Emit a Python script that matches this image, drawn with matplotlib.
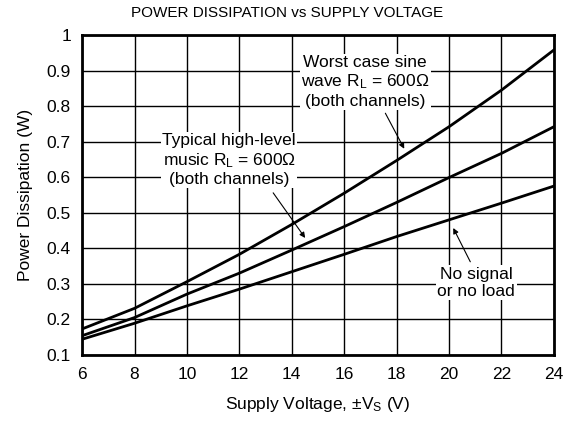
import numpy as np
import matplotlib
matplotlib.use("Agg")
import matplotlib.pyplot as plt

plt.rcParams['font.family'] = ['Liberation Sans', 'DejaVu Sans']
plt.rcParams['mathtext.default'] = 'regular'

# supply voltage (V)
volts = [6, 8, 10, 12, 14, 16, 18, 20, 22, 24]
# power dissipation (W)
worst_case = [0.173, 0.231, 0.306, 0.383, 0.467, 0.555, 0.647, 0.742, 0.845, 0.958]
typical_music = [0.154, 0.205, 0.271, 0.330, 0.395, 0.461, 0.529, 0.599, 0.667, 0.742]
no_signal = [0.144, 0.189, 0.238, 0.285, 0.334, 0.383, 0.433, 0.480, 0.527, 0.575]

x_ticks = [6, 8, 10, 12, 14, 16, 18, 20, 22, 24]
y_ticks = [0.1, 0.2, 0.3, 0.4, 0.5, 0.6, 0.7, 0.8, 0.9, 1]
y_tick_labels = ['0.1', '0.2', '0.3', '0.4', '0.5', '0.6', '0.7', '0.8', '0.9', '1']

fig = plt.figure(figsize=(5.74, 4.22), dpi=100)
ax = fig.add_axes([0.143, 0.159, 0.822, 0.758])

for ys in (worst_case, typical_music, no_signal):
    ax.plot(volts, ys, color='black', lw=2, zorder=3)

ax.set_xlim(6, 24)
ax.set_ylim(0.1, 1)
ax.set_xticks(x_ticks)
ax.set_yticks(y_ticks)
ax.set_yticklabels(y_tick_labels)
ax.tick_params(length=0, labelsize=12.5)
ax.tick_params(axis='x', pad=9)
ax.tick_params(axis='y', pad=8)
ax.grid(True, color='black', lw=1)
for s in ax.spines.values():
    s.set_linewidth(2)

ax.set_xlabel('Supply Voltage, ±V$_S$ (V)', fontsize=12.5, labelpad=9)
ax.set_ylabel('Power Dissipation (W)', fontsize=12.5, labelpad=10)
fig.text(0.5, 0.970, 'POWER DISSIPATION vs SUPPLY VOLTAGE', fontsize=11, ha='center', va='center')

box = dict(facecolor='white', edgecolor='none', pad=1)
arrow = dict(arrowstyle='-|>', color='black', lw=0.8, mutation_scale=8, shrinkA=0, shrinkB=0)

ax.text(16.8, 0.868, 'Worst case sine\nwave R$_L$ = 600Ω\n(both channels)', ha='center', va='center',
        fontsize=12.5, linespacing=1.2, bbox=box, zorder=4)
ax.annotate('', xy=(18.29, 0.68), xytext=(17.57, 0.78), arrowprops=arrow, zorder=5)

ax.text(11.61, 0.648, 'Typical high-level\nmusic R$_L$ = 600Ω\n(both channels)', ha='center', va='center',
        fontsize=12.5, linespacing=1.2, bbox=box, zorder=4)
ax.annotate('', xy=(14.51, 0.429), xytext=(13.29, 0.556), arrowprops=arrow, zorder=5)

ax.text(21.04, 0.303, 'No signal\nor no load', ha='center', va='center',
        fontsize=12.5, linespacing=1.2, bbox=box, zorder=4)
ax.annotate('', xy=(20.16, 0.457), xytext=(20.81, 0.362), arrowprops=arrow, zorder=5)

fig.savefig('out.png', dpi=100)
